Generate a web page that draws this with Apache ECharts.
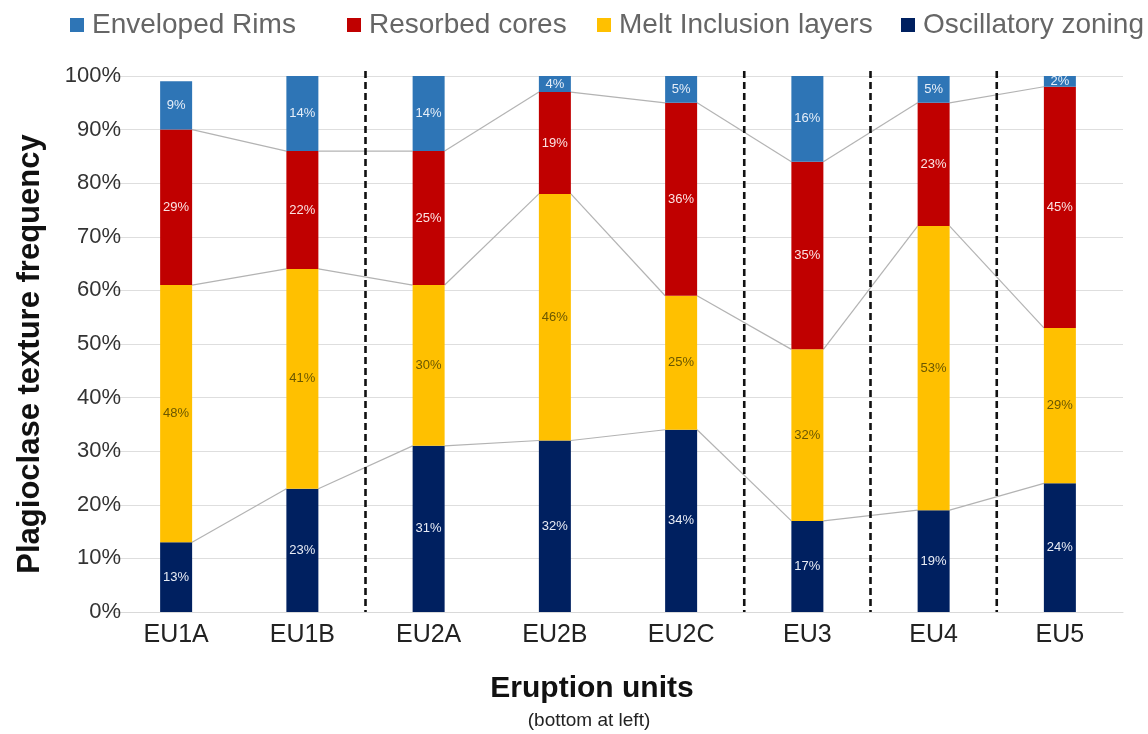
<!DOCTYPE html>
<html>
<head>
<meta charset="utf-8">
<title>Plagioclase texture frequency by eruption unit</title>
<script src="https://cdn.jsdelivr.net/npm/echarts@6/dist/echarts.min.js"></script>
<style>
  html, body { margin: 0; padding: 0; background: #ffffff; }
  #chart { width: 1148px; height: 734px; }
</style>
</head>
<body>
<div id="chart"></div>
<script>
// Eruption units, oldest (bottom of the sequence) at left
const units = ['EU1A', 'EU1B', 'EU2A', 'EU2B', 'EU2C', 'EU3', 'EU4', 'EU5'];

// Texture frequencies (%) per unit
const oscillatoryZoning   = [13, 23, 31, 32, 34, 17, 19, 24];
const meltInclusionLayers = [48, 41, 30, 46, 25, 32, 53, 29];
const resorbedCores       = [29, 22, 25, 19, 36, 35, 23, 45];
const envelopedRims       = [9, 14, 14, 4, 5, 16, 5, 2];

// A dashed separator is drawn after each of these units
const groupEnds = ['EU1B', 'EU2C', 'EU3', 'EU4'];

const yTicks = [0, 10, 20, 30, 40, 50, 60, 70, 80, 90, 100];

const COLORS = {
  rims: '#2e75b6',
  cores: '#c00000',
  melt: '#ffc000',
  osc: '#002060'
};
const BAR_W = 32;
const FONT = '"Liberation Sans", Arial, Helvetica, sans-serif';

// Cumulative segment tops, used for the series lines between bars
function cumulative(...arrays) {
  return arrays[0].map((_, i) => arrays.reduce((s, a) => s + a[i], 0));
}
const levelTops = [
  cumulative(oscillatoryZoning),
  cumulative(oscillatoryZoning, meltInclusionLayers),
  cumulative(oscillatoryZoning, meltInclusionLayers, resorbedCores)
];
const connectorData = [];
levelTops.forEach(tops => {
  for (let i = 0; i < tops.length - 1; i++) connectorData.push([i, tops[i], tops[i + 1]]);
});

function barSeries(name, data, color, labelColor) {
  return {
    name, type: 'bar', stack: 'total', data,
    barWidth: BAR_W,
    itemStyle: { color },
    label: {
      show: true, position: 'inside',
      formatter: '{c}%',
      color: labelColor, fontSize: 13, fontFamily: FONT
    },
    z: 3
  };
}

function legendAt(name, left) {
  return {
    data: [name], left, top: 6,
    icon: 'rect', itemWidth: 14, itemHeight: 14,
    textStyle: { fontSize: 28, color: '#666666', fontFamily: FONT, padding: [0, 0, 0, 3] },
    selectedMode: false
  };
}

const chart = echarts.init(document.getElementById('chart'), null, { renderer: 'canvas' });

chart.setOption({
  backgroundColor: '#ffffff',
  animation: false,
  legend: [
    legendAt('Enveloped Rims', 65),
    legendAt('Resorbed cores', 342),
    legendAt('Melt Inclusion layers', 592),
    legendAt('Oscillatory zoning', 896)
  ],
  grid: { left: 113, right: 25, top: 76, bottom: 122, containLabel: false },
  xAxis: {
    type: 'category',
    data: units,
    axisLine: { lineStyle: { color: '#d9d9d9', width: 1 } },
    axisTick: { show: false },
    axisLabel: { fontSize: 25, color: '#222222', fontFamily: FONT, margin: 11 }
  },
  yAxis: {
    type: 'value',
    min: yTicks[0], max: yTicks[yTicks.length - 1], interval: yTicks[1] - yTicks[0],
    axisLine: { show: false },
    axisTick: { show: false },
    splitLine: { lineStyle: { color: '#dedede', width: 1 } },
    axisLabel: { formatter: '{value}%', fontSize: 22, color: '#333333', fontFamily: FONT, margin: -8 }
  },
  graphic: [
    {
      type: 'text', x: 30, y: 354, rotation: Math.PI / 2,
      style: {
        text: 'Plagioclase texture frequency', align: 'center', verticalAlign: 'middle',
        font: 'bold 31px ' + FONT, fill: '#111111'
      }
    },
    {
      type: 'text', x: 592, y: 689,
      style: {
        text: 'Eruption units', align: 'center', verticalAlign: 'middle',
        font: 'bold 30px ' + FONT, fill: '#111111'
      }
    },
    {
      type: 'text', x: 589, y: 721,
      style: {
        text: '(bottom at left)', align: 'center', verticalAlign: 'middle',
        font: '19px ' + FONT, fill: '#222222'
      }
    }
  ],
  series: [
    barSeries('Oscillatory zoning', oscillatoryZoning, COLORS.osc, '#e8ecf5'),
    barSeries('Melt Inclusion layers', meltInclusionLayers, COLORS.melt, '#6b5700'),
    barSeries('Resorbed cores', resorbedCores, COLORS.cores, '#fbe3e3'),
    barSeries('Enveloped Rims', envelopedRims, COLORS.rims, '#e6eef8'),
    {
      // series lines joining segment tops of neighbouring bars
      type: 'custom',
      data: connectorData,
      silent: true,
      z: 2,
      renderItem(params, api) {
        const i = api.value(0);
        const p1 = api.coord([i, api.value(1)]);
        const p2 = api.coord([i + 1, api.value(2)]);
        return {
          type: 'line',
          shape: { x1: p1[0] + BAR_W / 2, y1: p1[1], x2: p2[0] - BAR_W / 2, y2: p2[1] },
          style: { stroke: '#b3b3b3', lineWidth: 1.2 }
        };
      }
    },
    {
      // dashed separators between eruption groups
      type: 'custom',
      data: groupEnds.map(u => [units.indexOf(u), 0]),
      silent: true,
      z: 4,
      renderItem(params, api) {
        const i = api.value(0);
        const a = api.coord([i, 0]);
        const b = api.coord([i + 1, 0]);
        const top = api.coord([i, 100]);
        const x = (a[0] + b[0]) / 2;
        return {
          type: 'line',
          shape: { x1: x, y1: top[1] - 5, x2: x, y2: a[1] },
          style: { stroke: '#111111', lineWidth: 2.6, lineDash: [7, 4] }
        };
      }
    }
  ]
});
</script>
</body>
</html>
